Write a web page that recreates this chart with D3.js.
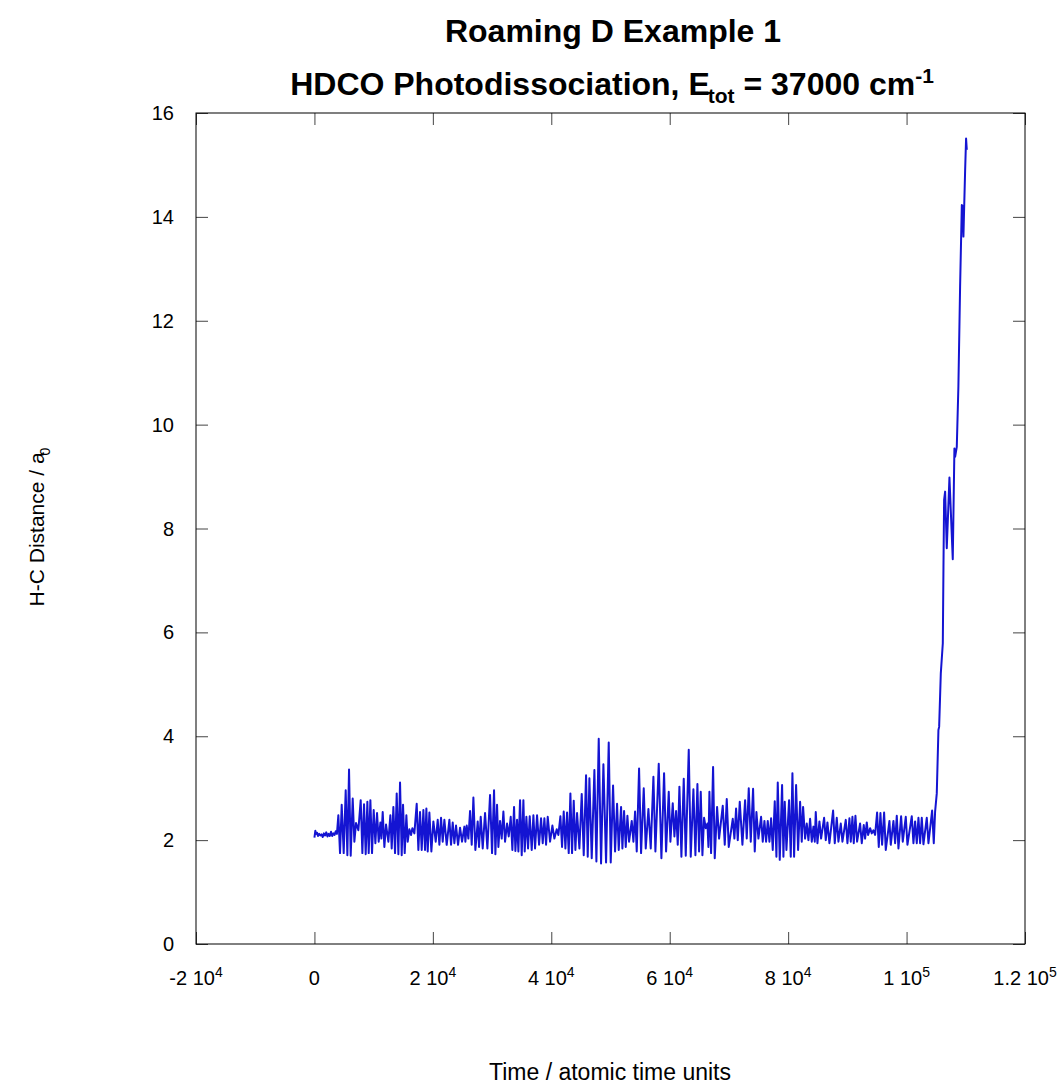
<!DOCTYPE html>
<html>
<head>
<meta charset="utf-8">
<script src="https://cdn.jsdelivr.net/npm/d3@7/dist/d3.min.js"></script>
<style>
  body { margin: 0; background: #fff; }
  text { font-family: "Liberation Sans", Arial, sans-serif; fill: #000; }
</style>
</head>
<body>
<script>
// Trajectory: H-C distance vs time
var timeAtu = [
  0, 150, 300, 450, 600, 800, 1000, 1200, 1400, 1600, 1800, 2000, 2200, 2400, 2600, 2800, 3000, 3200, 3400, 3600, 3800,
  4042, 4324, 4605, 4943, 5281, 5562, 5844, 6125, 6463, 6744, 7026, 7420, 7814, 8096, 8377, 8659, 8940, 9165, 9447, 9728,
  10010, 10291, 10573, 10854, 11136, 11305, 11530, 11811, 12093, 12487, 12825, 13050, 13332, 13613, 13895, 14176, 14458, 14739,
  14964, 15246, 15527, 15752, 16034, 16315, 16541, 16878, 17272, 17554, 17835, 18117, 18399, 18680, 18905, 19130, 19412, 19750,
  20088, 20482, 20820, 21101, 21382, 21664, 21945, 22340, 22790, 23071, 23353, 23634, 23916, 24254, 24592, 24929, 25323, 25492,
  25718, 25999, 26281, 26562, 26844, 27181, 27575, 27801, 28082, 28420, 28814, 29208, 29659, 29996, 30334, 30559, 30841, 31066,
  31348, 31629, 31911, 32192, 32530, 32811, 33149, 33431, 33712, 33937, 34219, 34444, 34726, 35007, 35289, 35514, 35795, 36077,
  36358, 36696, 36978, 37259, 37597, 37935, 38272, 38554, 38835, 39117, 39398, 39793, 40187, 40524, 40919, 41200, 41538, 41819,
  42101, 42382, 42664, 42945, 43227, 43508, 43790, 44071, 44353, 44747, 45141, 45479, 45873, 46154, 46436, 46830, 47280, 47618,
  48012, 48406, 48801, 49251, 49701, 50039, 50433, 50771, 51109, 51390,
  51785, 52010, 52292, 52573, 52855, 53136, 53587, 53868, 54150, 54431, 54825, 55163, 55613, 55951, 56402, 56796, 57246, 57584,
  58147, 58597, 59048, 59385, 59836, 60117, 60511, 60793, 61074, 61356, 61637, 61975, 62369, 62707, 63214, 63552, 64002, 64340,
  64678, 64959, 65241, 65522, 65804, 66085, 66367, 66536, 66704, 66986, 67324, 67605, 68000, 68337, 68956, 69294, 69632, 69970,
  70645, 70927, 71208, 71490, 71828, 72278, 72729, 73010, 73348, 73686, 74080, 74361, 74643, 74981, 75431, 75712, 75994, 76275,
  76557, 76838, 77120, 77401, 77739, 78020, 78246, 78584, 78978, 79203, 79428, 79710, 80160, 80442, 80723, 81005, 81343, 81680,
  82018, 82300, 82525, 82863, 83144, 83426, 83707, 83989, 84270, 84495, 84664, 84946, 85283, 85565, 86072, 86353, 86635, 86972,
  87592, 87873, 88211, 88493, 88887, 89168, 89731, 90013, 90350, 90576, 90857, 91082, 91364, 91645, 92152, 92434, 92771, 92996,
  93278, 93503, 93841, 94122, 94404, 94686, 95023, 95305, 95586, 95868, 96206, 96487, 97106, 97332, 97782, 98064, 98345, 98627,
  99077, 99358, 99865, 100147, 100879, 101160, 101442, 101723, 102005, 102286, 102567, 102849, 103412, 103694, 104313, 104594,
  104820, 105100, 105380, 105500, 105780, 106120, 106230, 106340, 106510, 106790, 107240, 107800, 108080, 108200, 108480,
  108750, 109040, 109330, 109450, 109600, 109700, 109890, 110050, 110170
];
var distHC = [
  2.05, 2.18, 2.12, 2.14, 2.08, 2.12, 2.09, 2.11, 2.06, 2.13, 2.09, 2.15, 2.07, 2.12, 2.08, 2.16, 2.08, 2.13, 2.10, 2.17, 2.12,
  2.48, 1.75, 2.68, 1.75, 2.96, 1.71, 3.36, 1.70, 2.80, 1.97, 2.33, 2.19, 2.77, 1.75, 2.69, 1.73, 2.74, 1.75, 2.77, 1.75,
  2.58, 1.94, 2.52, 1.97, 2.34, 2.03, 2.54, 1.87, 2.30, 1.97, 2.48, 1.84, 2.64, 1.75, 2.90, 1.73, 3.11, 1.71,
  2.68, 1.75, 2.48, 1.97, 2.21, 2.10, 2.23, 2.13, 2.70, 1.81, 2.54, 1.81, 2.58, 1.81, 2.61, 1.78, 2.53, 1.78,
  2.36, 1.97, 2.39, 1.91, 2.43, 1.97, 2.39, 1.91, 2.39, 1.91, 2.34, 1.94, 2.28, 1.91, 2.24, 1.97, 2.26, 1.97,
  2.28, 2.03, 2.56, 1.91, 2.82, 1.81, 2.36, 1.87, 2.45, 1.84, 2.52, 1.84, 2.87, 1.75, 2.96, 1.73, 2.68, 1.87,
  2.37, 2.03, 2.55, 1.97, 2.32, 2.07, 2.45, 1.81, 2.64, 1.79, 2.39, 1.78, 2.77, 1.71, 2.77, 1.78, 2.45, 1.84,
  2.46, 1.81, 2.48, 1.84, 2.48, 1.91, 2.42, 1.94, 2.42, 1.91, 2.45, 1.97, 2.28, 2.03, 2.21, 2.10, 2.46, 1.87,
  2.55, 1.84, 2.53, 1.75, 2.90, 1.75, 2.76, 1.81, 2.52, 1.84, 2.89, 1.71, 3.25, 1.68, 3.19, 1.65, 3.35, 1.59,
  3.95, 1.55, 3.46, 1.57, 3.88, 1.57, 3.05, 1.78, 2.70, 1.81,
  2.64, 1.84, 2.56, 1.87, 2.47, 1.97, 2.37, 1.97, 2.55, 1.78, 3.38, 1.75, 3.00, 1.84, 2.60, 1.84, 3.22, 1.78,
  3.47, 1.65, 3.29, 1.78, 2.93, 1.97, 2.71, 2.07, 2.56, 1.91, 3.03, 1.68, 3.18, 1.70, 3.74, 1.68, 2.98, 1.71,
  3.08, 1.78, 2.93, 1.71, 2.43, 2.23, 2.32, 1.87, 2.93, 1.75, 3.41, 1.65, 2.64, 2.03, 2.66, 1.91, 2.79, 1.87,
  2.41, 2.03, 2.61, 2.00, 2.74, 1.91, 2.77, 2.03, 3.00, 1.97, 2.99, 1.78, 2.54, 2.03, 2.45, 1.97, 2.37, 1.97,
  2.37, 1.97, 2.42, 1.81, 2.75, 1.68, 3.11, 1.62, 3.06, 1.68, 2.74, 1.81, 2.77, 1.68, 3.29, 1.68, 3.06, 1.81,
  2.74, 1.97, 2.64, 2.03, 2.32, 2.00, 2.41, 1.97, 2.26, 1.97, 2.54, 1.94, 2.36, 2.03, 2.43, 2.00, 2.34, 1.94,
  2.57, 1.94, 2.43, 1.97, 2.32, 1.97, 2.39, 1.94, 2.42, 1.97, 2.45, 1.94, 2.47, 1.97, 2.32, 1.94, 2.29, 2.03,
  2.34, 2.10, 2.23, 2.13, 2.19, 2.10, 2.53, 1.87, 2.52, 1.91, 2.53, 1.81, 2.37, 1.91, 2.37, 1.94, 2.47, 1.84,
  2.46, 1.97, 2.45, 1.91, 2.46, 1.94, 2.36, 1.94, 2.43, 1.94, 2.43, 1.92, 2.43, 1.94, 2.57, 1.94,
  2.55, 2.90, 4.12, 4.18, 5.21, 5.79, 7.26, 8.55, 8.71, 7.62, 8.98, 7.41, 9.54, 9.38, 9.57,
  10.73, 12.66, 14.23, 14.20, 13.62, 14.07, 14.90, 15.51, 15.29
];

// Axis ticks
var xTickValues = [-20000, 0, 20000, 40000, 60000, 80000, 100000, 120000];
var xTickMant = ["-2 10", "0", "2 10", "4 10", "6 10", "8 10", "1 10", "1.2 10"];
var xTickExp = ["4", "", "4", "4", "4", "4", "5", "5"];
var yTickValues = [0, 2, 4, 6, 8, 10, 12, 14, 16];

// Graph dimensions and margins
var margin = {top: 113, right: 38, bottom: 141, left: 196},
    width = 1063 - margin.left - margin.right,
    height = 1085 - margin.top - margin.bottom;

var x = d3.scaleLinear().domain([-20000, 120000]).range([0, width]);
var y = d3.scaleLinear().domain([0, 16]).range([height, 0]);

var svg = d3.select("body").append("svg")
    .attr("width", 1063)
    .attr("height", 1085);

var chart = svg.append("g")
    .attr("transform", "translate(" + margin.left + "," + margin.top + ")");

// Ticks on all four sides, pointing inwards
var tickLen = 12;
function styleTicks(g) {
  g.select(".domain").remove();
  g.selectAll(".tick line").attr("stroke", "#444");
}

chart.append("g")
    .attr("transform", "translate(0," + height + ")")
    .call(d3.axisBottom(x).tickValues(xTickValues).tickSizeInner(-tickLen).tickSizeOuter(0).tickFormat(""))
    .call(styleTicks);
chart.append("g")
    .call(d3.axisTop(x).tickValues(xTickValues).tickSizeInner(-tickLen).tickSizeOuter(0).tickFormat(""))
    .call(styleTicks);
chart.append("g")
    .call(d3.axisLeft(y).tickValues(yTickValues).tickSizeInner(-tickLen).tickSizeOuter(0).tickFormat(""))
    .call(styleTicks);
chart.append("g")
    .attr("transform", "translate(" + width + ",0)")
    .call(d3.axisRight(y).tickValues(yTickValues).tickSizeInner(-tickLen).tickSizeOuter(0).tickFormat(""))
    .call(styleTicks);

// Frame
chart.append("rect")
    .attr("width", width)
    .attr("height", height)
    .attr("fill", "none")
    .attr("stroke", "#000")
    .attr("stroke-width", 1);

// x tick labels with superscript exponents
var xl = chart.selectAll(".xlab")
    .data(xTickValues)
  .enter().append("text")
    .attr("class", "xlab")
    .attr("x", function(d) { return x(d); })
    .attr("y", height + 41)
    .attr("text-anchor", "middle")
    .style("font-size", "20px");
xl.append("tspan").text(function(d, i) { return xTickMant[i]; });
xl.append("tspan")
    .attr("dy", -8)
    .style("font-size", "14px")
    .text(function(d, i) { return xTickExp[i]; });

// y tick labels
chart.selectAll(".ylab")
    .data(yTickValues)
  .enter().append("text")
    .attr("class", "ylab")
    .attr("x", -22)
    .attr("y", function(d) { return y(d); })
    .attr("dy", "0.35em")
    .attr("text-anchor", "end")
    .style("font-size", "20px")
    .text(function(d) { return d; });

// The trajectory
var line = d3.line()
    .x(function(d, i) { return x(timeAtu[i]); })
    .y(function(d) { return y(d); });

chart.append("path")
    .datum(distHC)
    .attr("fill", "none")
    .attr("stroke", "#1414d2")
    .attr("stroke-width", 2)
    .attr("stroke-linejoin", "round")
    .attr("d", line);

// Titles
svg.append("text")
    .attr("x", 613)
    .attr("y", 42)
    .attr("text-anchor", "middle")
    .style("font-size", "32px")
    .style("font-weight", "bold")
    .text("Roaming D Example 1");

var t2 = svg.append("text")
    .attr("x", 612)
    .attr("y", 95)
    .attr("text-anchor", "middle")
    .style("font-size", "32px")
    .style("font-weight", "bold");
t2.append("tspan").text("HDCO Photodissociation, E");
t2.append("tspan").attr("dx", -2).attr("dy", 8).style("font-size", "21px").text("tot");
t2.append("tspan").attr("dy", -8).text(" = 37000 cm");
t2.append("tspan").attr("dx", 0).attr("dy", -12).style("font-size", "21px").text("-1");

// Axis titles
svg.append("text")
    .attr("x", 610)
    .attr("y", 1080)
    .attr("text-anchor", "middle")
    .style("font-size", "23px")
    .text("Time / atomic time units");

var yt = svg.append("text")
    .attr("transform", "translate(44,527) rotate(-90)")
    .attr("text-anchor", "middle")
    .style("font-size", "21px");
yt.append("tspan").text("H-C Distance / a");
yt.append("tspan").attr("dx", -3).attr("dy", 6).style("font-size", "14px").text("0");
</script>
</body>
</html>
